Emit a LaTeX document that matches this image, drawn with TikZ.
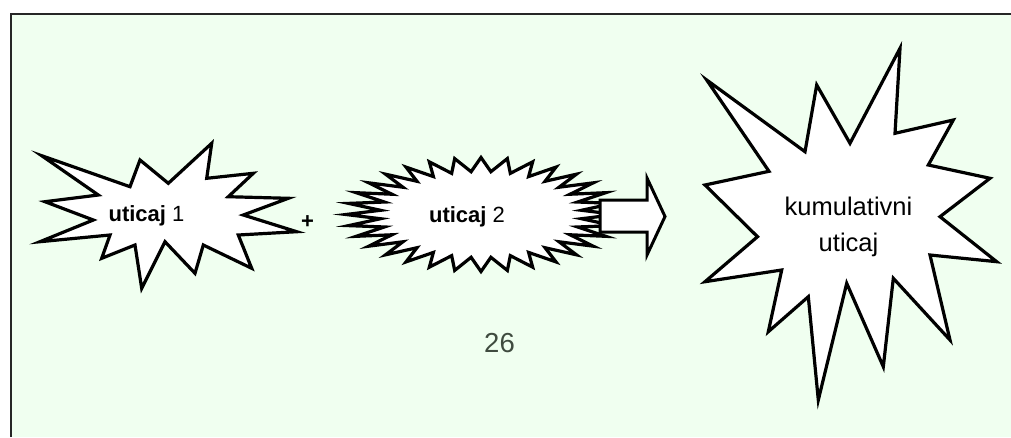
\documentclass[tikz,border=0pt]{standalone}
\usepackage{fontspec}
\setmainfont{Liberation Sans}
\definecolor{bggreen}{HTML}{F0FFF0}
\definecolor{numgray}{HTML}{3F4B3F}
\tikzset{
  burst/.style={draw=black, fill=white, line width=3.2pt, line join=miter, miter limit=10},
  smalltxt/.style={font=\fontsize{22}{26}\selectfont, inner sep=0pt, anchor=base},
  bigtxt/.style={font=\fontsize{25.5}{36}\selectfont, inner sep=0pt, align=center},
}
\begin{document}
\begin{tikzpicture}[x=1pt,y=-1pt]
\useasboundingbox (0,0) rectangle (1011,437);
\fill[white] (0,0) rectangle (1011,437);
% frame
\fill[bggreen] (11,14) rectangle (1011,437);
\draw[black!85, line width=1.5pt] (11,437) -- (11,14) -- (1011,14);
% star 1
\draw[burst] (41.7,155.7) -- (130,186.7) -- (140,160) -- (168.3,183.3) -- (211.7,143.3) -- (206.7,178.3) -- (253.3,173.3) -- (228.3,196.7) -- (288.3,198.3) -- (243.3,215) -- (296.7,231.7) -- (238.3,235) -- (251.7,268.3) -- (203.3,245) -- (195,273.3) -- (165,241.7) -- (141.7,288.3) -- (135,245) -- (101.7,258.3) -- (110,235) -- (40,241.7) -- (93.3,220) -- (45,201.7) -- (98.3,195) -- cycle;
\node[smalltxt] (u1) at (146.5,221) {\textbf{uticaj} 1};
% plus
\node[smalltxt] (plus) at (307.5,228.5) {\textbf{+}};
% star 2 (32-point)
\draw[burst] (481,157.5)
  \foreach \k in {0,...,30}{
    -- ({481+101*cos(90+\k*11.25+5.625)},{214.5-43*sin(90+\k*11.25+5.625)})
    -- ({481+135*cos(90+(\k+1)*11.25)},{214.5-57*sin(90+(\k+1)*11.25)})
  }
  -- ({481+101*cos(90+31*11.25+5.625)},{214.5-43*sin(90+31*11.25+5.625)}) -- cycle;
\node[smalltxt] (u2) at (467,222) {\textbf{uticaj} 2};
% arrow
\draw[burst, line width=3pt] (600,200) -- (647,200) -- (647,178) -- (665,216.5) -- (647,255) -- (647,232) -- (600,232) -- cycle;
% star 3
\draw[burst] (706.7,80) -- (805,151.7) -- (816.7,85) -- (850,143.3) -- (900,48.3) -- (895,133.3) -- (953.3,120) -- (928.3,165) -- (990,178.3) -- (940,216.7) -- (996.7,261.7) -- (930,255) -- (950,340) -- (893.3,278.3) -- (883.3,366.7) -- (846.7,283.3) -- (818.3,400) -- (808.3,296.7) -- (768.3,331.7) -- (781.7,270) -- (705,281.7) -- (757.5,236.7) -- (705,185) -- (769,171.3) -- cycle;
\node[bigtxt] (ku) at (848.5,227.2) {kumulativni\\uticaj};
% page number
\node[font=\fontsize{27.5}{32}\selectfont, text=numgray, inner sep=0pt, anchor=base] (num) at (499.5,352) {26};
\end{tikzpicture}
\end{document}
